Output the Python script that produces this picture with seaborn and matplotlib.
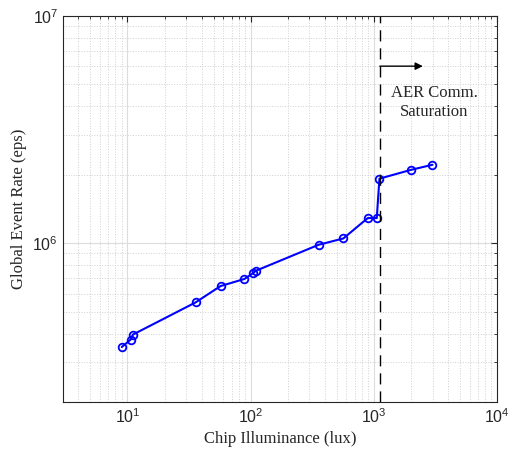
import matplotlib
matplotlib.use("Agg")
import matplotlib.pyplot as plt
import seaborn as sns
import numpy as np
import pandas as pd
from matplotlib.ticker import LogLocator, NullFormatter

illuminance = [9.0, 10.6, 11.1, 35.7, 57, 89, 105, 110, 357, 566, 893, 1057, 1111, 2010, 2993]
event_rate = [3.49e5, 3.76e5, 3.96e5, 5.48e5, 6.47e5, 6.95e5, 7.38e5, 7.55e5,
              9.83e5, 1.048e6, 1.288e6, 1.288e6, 1.92e6, 2.10e6, 2.21e6]
saturation_x = 1120
annotation_text = "AER Comm.\nSaturation"

sns.set_style("white")
plt.rcParams['font.family'] = ['Liberation Sans', 'DejaVu Sans']

df = pd.DataFrame({"lux": illuminance, "eps": event_rate})

fig = plt.figure(figsize=(5.09, 4.57), dpi=100)
ax = fig.add_axes([0.1238, 0.1204, 0.8526, 0.8452])

sns.lineplot(data=df, x="lux", y="eps", ax=ax, sort=False, color=(0, 0, 1),
             linewidth=1.5, marker="o", markersize=5.5, markerfacecolor="none",
             markeredgecolor=(0, 0, 1), markeredgewidth=1.3)

ax.set_xscale("log")
ax.set_yscale("log")
ax.set_xlim(3, 1e4)
ax.set_ylim(2e5, 1e7)

ax.xaxis.set_major_locator(LogLocator(base=10, numticks=10))
ax.xaxis.set_minor_locator(LogLocator(base=10, subs=np.arange(2, 10), numticks=20))
ax.yaxis.set_major_locator(LogLocator(base=10, numticks=10))
ax.yaxis.set_minor_locator(LogLocator(base=10, subs=np.arange(2, 10), numticks=20))
ax.xaxis.set_minor_formatter(NullFormatter())
ax.yaxis.set_minor_formatter(NullFormatter())

ax.grid(which="major", color="#dcdcdc", linestyle="-", linewidth=0.8)
ax.grid(which="minor", color="#d0d0d0", linestyle=":", linewidth=0.7)
ax.set_axisbelow(True)

ax.tick_params(which="both", direction="in", top=True, right=True, colors="#262626",
               labelsize=11.5)
ax.tick_params(which="major", length=4)
ax.tick_params(which="minor", length=2.5)
for s in ax.spines.values():
    s.set_color("#262626")
    s.set_linewidth(0.8)

ax.axvline(saturation_x, color="black", linestyle=(0, (8, 5)), linewidth=1.0)
ax.annotate("", xy=(2500, 6.0e6), xytext=(saturation_x, 6.0e6),
            arrowprops=dict(arrowstyle="-|>", color="black", lw=1.0, mutation_scale=11,
                            shrinkA=0, shrinkB=0))
ax.text(3100, 4.16e6, annotation_text, ha="center", va="center",
        fontsize=12, family=["Liberation Serif"], linespacing=1.25)

ax.set_xlabel("Chip Illuminance (lux)", fontsize=12, family=["Liberation Serif"], color="#262626")
ax.set_ylabel("Global Event Rate (eps)", fontsize=12, family=["Liberation Serif"], color="#262626")

fig.savefig("out.png", dpi=100)
